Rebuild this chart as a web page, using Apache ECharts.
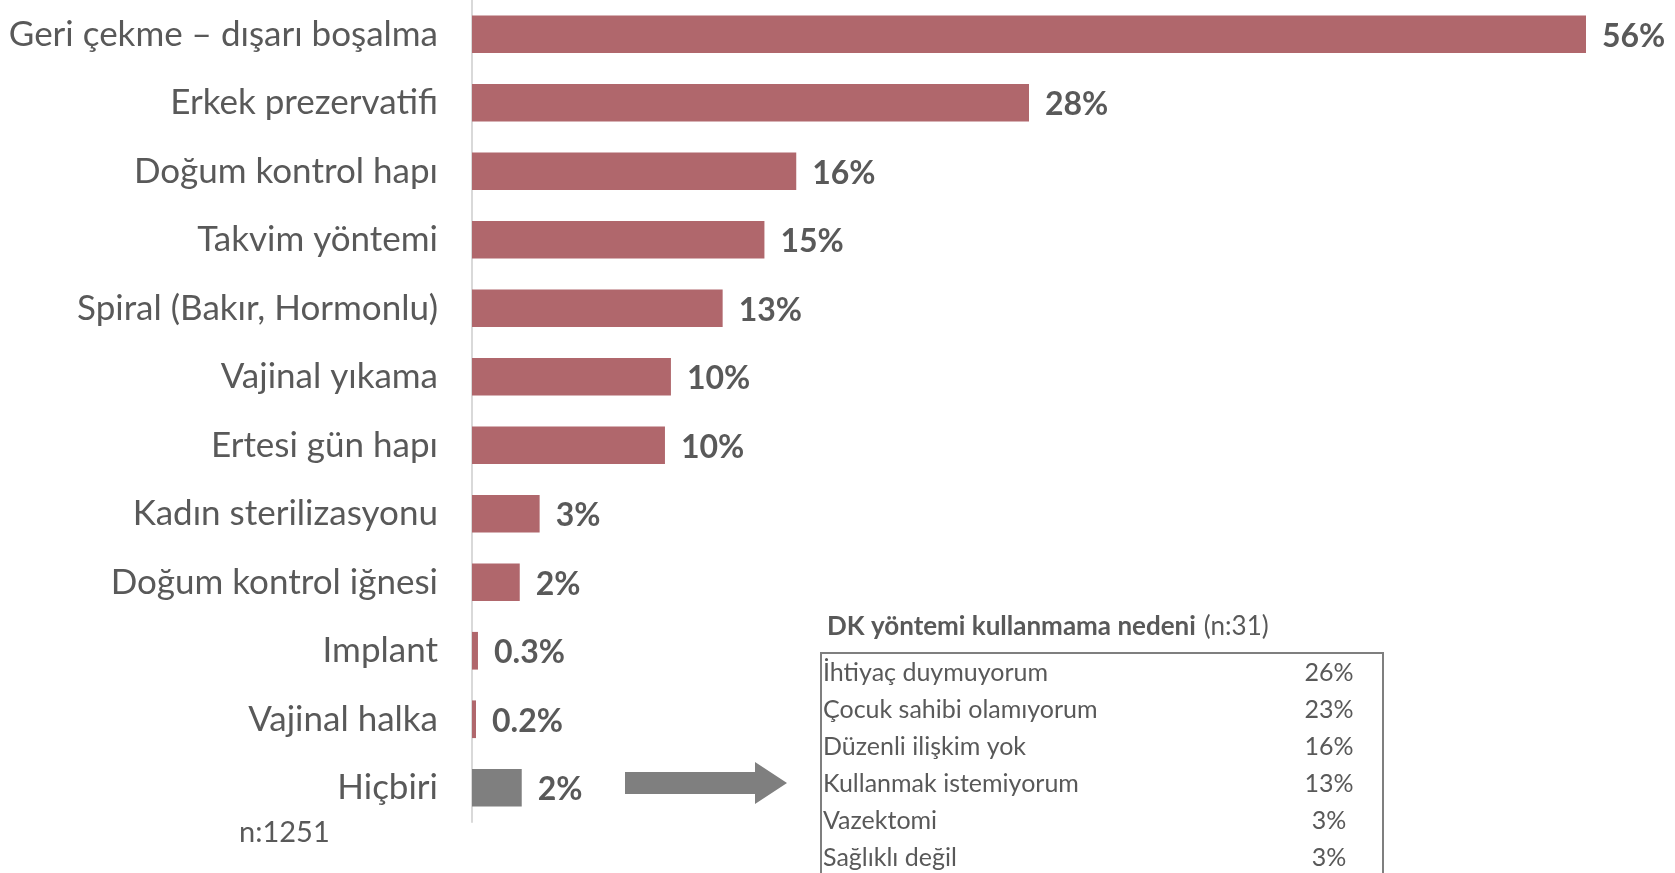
<!DOCTYPE html>
<html>
<head>
<meta charset="utf-8">
<title>DK yöntemleri</title>
<script src="https://cdn.jsdelivr.net/npm/echarts@6/dist/echarts.min.js"></script>
<style>
  html, body { margin: 0; padding: 0; background: #fff; }
  #main { width: 1675px; height: 873px; }
</style>
</head>
<body>
<div id="main"></div>
<script>
// kullanilan yontemler (n:1251)
var methods = ['Geri çekme – dışarı boşalma', 'Erkek prezervatifi', 'Doğum kontrol hapı',
  'Takvim yöntemi', 'Spiral (Bakır, Hormonlu)', 'Vajinal yıkama', 'Ertesi gün hapı',
  'Kadın sterilizasyonu', 'Doğum kontrol iğnesi', 'Implant', 'Vajinal halka', 'Hiçbiri'];
var shares = [56, 28, 16.3, 14.7, 12.6, 10, 9.7, 3.4, 2.4, 0.3, 0.2, 2.5];
var shareLabels = ['56%', '28%', '16%', '15%', '13%', '10%', '10%', '3%', '2%', '0.3%', '0.2%', '2%'];

// kullanmama nedeni (n:31)
var reasons = ['İhtiyaç duymuyorum', 'Çocuk sahibi olamıyorum', 'Düzenli ilişkim yok',
  'Kullanmak istemiyorum', 'Vazektomi', 'Sağlıklı değil'];
var reasonShares = ['26%', '23%', '16%', '13%', '3%', '3%'];

var FONT = 'Lato';
var GREY = '#595959';

var barData = shares.map(function (v, i) {
  return {
    value: v,
    itemStyle: { color: methods[i] === 'Hiçbiri' ? '#7f7f7f' : '#b0676c' }
  };
});

// tablo
var graphics = [];
graphics.push({
  type: 'text', left: 827, top: 614,
  style: {
    text: '{b|DK yöntemi kullanmama nedeni}{n|(n:31)}',
    rich: {
      b: { fontFamily: FONT, fontSize: 26, fontWeight: 'bold', fill: GREY },
      n: { fontFamily: FONT, fontSize: 26, fill: GREY, padding: [0, 0, 0, 8] }
    }
  }
});
graphics.push({
  type: 'rect', shape: { x: 821, y: 653, width: 562, height: 240 },
  style: { fill: 'none', stroke: '#7f7f7f', lineWidth: 2 }
});
reasons.forEach(function (r, i) {
  var y = 673 + i * 37;
  graphics.push({
    type: 'text', x: 823, y: y,
    style: { text: r, fontFamily: FONT, fontSize: 25, fill: GREY, verticalAlign: 'middle' }
  });
  graphics.push({
    type: 'text', x: 1329, y: y,
    style: { text: reasonShares[i], fontFamily: FONT, fontSize: 25, fill: GREY, align: 'center', verticalAlign: 'middle' }
  });
});
// ok
graphics.push({
  type: 'polygon',
  shape: { points: [[625, 772], [755, 772], [755, 762], [787, 783], [755, 804], [755, 794], [625, 794]] },
  style: { fill: '#7f7f7f' }
});
graphics.push({
  type: 'text', left: 239, top: 818,
  style: { text: 'n:1251', fontFamily: FONT, fontSize: 29, fill: GREY }
});

var chart = echarts.init(document.getElementById('main'));
chart.setOption({
  animation: false,
  grid: { left: 472, right: 89, top: 0, bottom: 51 },
  xAxis: { type: 'value', min: 0, max: 56, show: false },
  yAxis: {
    type: 'category', inverse: true, data: methods,
    axisLine: { lineStyle: { color: '#d9d9d9', width: 2 } },
    axisTick: { show: false },
    axisLabel: { fontFamily: FONT, fontSize: 35, color: GREY, margin: 34 }
  },
  series: [{
    type: 'bar', data: barData, barWidth: '55%',
    label: {
      show: true, position: 'right', distance: 16, offset: [0, 2],
      fontFamily: FONT, fontSize: 32, fontWeight: 'bold', color: GREY,
      formatter: function (p) { return shareLabels[p.dataIndex]; }
    }
  }],
  graphic: graphics
});
</script>
</body>
</html>
